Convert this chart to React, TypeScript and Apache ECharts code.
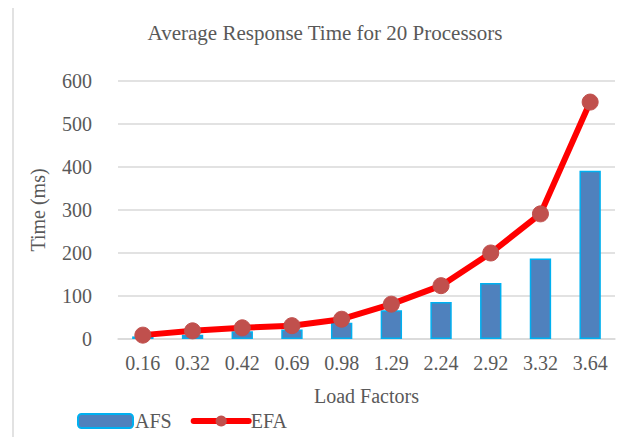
import React, { useEffect, useRef } from "react";
import * as echarts from "echarts";

const loadFactors = ["0.16", "0.32", "0.42", "0.69", "0.98", "1.29", "2.24", "2.92", "3.32", "3.64"];
const afsTimes = [6, 10, 18, 22, 38, 67, 86, 130, 187, 391];
const efaTimes = [9, 19, 26, 31, 46, 81, 124, 200, 291, 551];
const yTicks = [0, 100, 200, 300, 400, 500, 600];

const FONT = "'Liberation Serif', 'Times New Roman', serif";
const TEXT = "#595959";

export default function App() {
  const ref = useRef<HTMLDivElement>(null);

  useEffect(() => {
    if (!ref.current) return;
    const chart = echarts.init(ref.current, undefined, { renderer: "svg" });
    chart.setOption({
      animation: false,
      backgroundColor: "#ffffff",
      textStyle: { fontFamily: FONT, color: TEXT },
      title: {
        text: "Average Response Time for 20 Processors",
        left: 320,
        top: 17,
        textAlign: "center",
        textStyle: { fontFamily: FONT, fontSize: 21, fontWeight: "normal", color: TEXT },
      },
      graphic: [
        { type: "line", shape: { x1: 13, y1: 5, x2: 626, y2: 5 }, style: { stroke: "#d9d9d9", lineWidth: 1.5 } },
        { type: "line", shape: { x1: 13, y1: 5, x2: 13, y2: 445 }, style: { stroke: "#d9d9d9", lineWidth: 1.5 } },
      ],
      legend: {
        left: 72,
        top: 406,
        itemWidth: 55,
        itemHeight: 14,
        itemGap: 19,
        textStyle: { fontFamily: FONT, fontSize: 20, color: TEXT, padding: [0, 0, 0, -3] },
        data: [
          { name: "AFS" },
          { name: "EFA", lineStyle: { width: 6, cap: "round" } },
        ],
      },
      grid: { left: 118, right: 11, top: 81, bottom: 106 },
      xAxis: {
        type: "category",
        data: loadFactors,
        name: "Load Factors",
        nameLocation: "middle",
        nameGap: 47,
        nameTextStyle: { fontFamily: FONT, fontSize: 20, color: TEXT },
        axisLine: { lineStyle: { color: "#d9d9d9", width: 1.5 } },
        axisTick: { show: false },
        axisLabel: { fontFamily: FONT, fontSize: 20, color: TEXT, margin: 14 },
      },
      yAxis: {
        type: "value",
        min: 0,
        max: 600,
        interval: 100,
        name: "Time (ms)",
        nameLocation: "middle",
        nameGap: 70,
        nameTextStyle: { fontFamily: FONT, fontSize: 20, color: TEXT },
        axisLine: { show: false },
        axisTick: { show: false },
        axisLabel: {
          fontFamily: FONT,
          fontSize: 20,
          color: TEXT,
          margin: 26,
          formatter: (v: number) => (yTicks.includes(v) ? String(v) : ""),
        },
        splitLine: { lineStyle: { color: "#d9d9d9", width: 1.5 } },
      },
      series: [
        {
          name: "AFS",
          type: "bar",
          data: afsTimes,
          barWidth: "43%",
          itemStyle: { color: "#4f81bd", borderColor: "#00b0f0", borderWidth: 1.5 },
        },
        {
          name: "EFA",
          type: "line",
          data: efaTimes,
          symbol: "circle",
          symbolSize: 16,
          lineStyle: { color: "#ff0000", width: 6 },
          itemStyle: { color: "#c0504d", borderColor: "#c0504d" },
        },
      ],
    });
    return () => chart.dispose();
  }, []);

  return <div ref={ref} style={{ width: 626, height: 445, margin: -8 }} />;
}
